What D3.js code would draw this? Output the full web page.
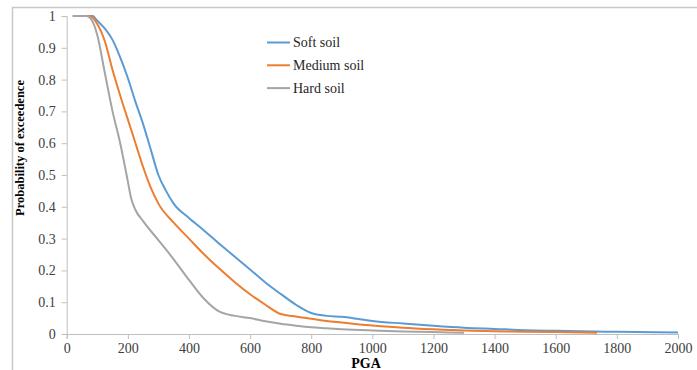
<!DOCTYPE html>
<html>
<head>
<meta charset="utf-8">
<script src="https://cdn.jsdelivr.net/npm/d3@7"></script>
<style>
  body { margin: 0; background: #fff; }
  text { font-family: "Liberation Serif", "Times New Roman", serif; }
</style>
</head>
<body>
<div id="chart"></div>
<script>
// PGA / probability of exceedence
const softPGA  = [20, 85, 100, 125, 150, 175, 200, 225, 250, 275, 300, 325, 350, 400, 450, 500, 550, 600, 650, 700, 750, 800, 850, 900, 950, 1000, 1100, 1200, 1300, 1400, 1500, 1600, 1800, 2000];
const softProb = [1, 1, 0.985, 0.96, 0.925, 0.87, 0.805, 0.73, 0.66, 0.58, 0.5, 0.45, 0.41, 0.365, 0.325, 0.283, 0.243, 0.203, 0.162, 0.126, 0.092, 0.066, 0.057, 0.054, 0.048, 0.041, 0.033, 0.026, 0.02, 0.016, 0.012, 0.01, 0.007, 0.005];

const mediumPGA  = [20, 75, 100, 125, 150, 175, 200, 225, 250, 275, 300, 350, 400, 450, 500, 550, 600, 650, 700, 750, 800, 850, 900, 950, 1000, 1100, 1200, 1300, 1400, 1500, 1600, 1735];
const mediumProb = [1, 1, 0.975, 0.92, 0.83, 0.75, 0.675, 0.6, 0.525, 0.46, 0.41, 0.35, 0.3, 0.25, 0.205, 0.163, 0.125, 0.092, 0.063, 0.055, 0.048, 0.041, 0.036, 0.031, 0.027, 0.02, 0.015, 0.011, 0.009, 0.007, 0.006, 0.004];

const hardPGA  = [20, 65, 80, 100, 125, 150, 175, 200, 210, 225, 250, 300, 350, 400, 450, 500, 550, 600, 650, 700, 750, 800, 850, 900, 1000, 1100, 1200, 1300];
const hardProb = [1, 1, 0.99, 0.94, 0.82, 0.7, 0.6, 0.48, 0.43, 0.39, 0.355, 0.295, 0.235, 0.17, 0.11, 0.07, 0.057, 0.05, 0.04, 0.032, 0.026, 0.021, 0.018, 0.015, 0.011, 0.008, 0.006, 0.004];

const seriesNames  = ["Soft soil", "Medium soil", "Hard soil"];
const seriesColors = ["#5b9bd5", "#ed7d31", "#a5a5a5"];
const xTicks = [0, 200, 400, 600, 800, 1000, 1200, 1400, 1600, 1800, 2000];
const yTicks = [0, 0.1, 0.2, 0.3, 0.4, 0.5, 0.6, 0.7, 0.8, 0.9, 1];

const series = [
    {name: seriesNames[0], color: seriesColors[0], pts: softPGA.map((v, i) => [v, softProb[i]])},
    {name: seriesNames[1], color: seriesColors[1], pts: mediumPGA.map((v, i) => [v, mediumProb[i]])},
    {name: seriesNames[2], color: seriesColors[2], pts: hardPGA.map((v, i) => [v, hardProb[i]])}
];

const W = 697, H = 370;
const margin = {top: 16, right: 19, bottom: 36, left: 66.7},
    width = W - margin.left - margin.right,
    height = H - margin.top - margin.bottom;

const root = d3.select("#chart")
    .append("svg")
    .attr("width", W)
    .attr("height", H);

// outer frame (only top and left are visible in the picture)
root.append("path")
    .attr("d", `M12.5,${H} L12.5,7.5 L${W},7.5`)
    .attr("fill", "none")
    .attr("stroke", "#c8c8c8")
    .attr("stroke-width", 1.5);

const svg = root.append("g")
    .attr("transform", `translate(${margin.left}, ${margin.top})`);

const x = d3.scaleLinear().domain([0, 2000]).range([0, width]);
const y = d3.scaleLinear().domain([0, 1]).range([height, 0]);

// X axis
const xAxis = svg.append("g")
    .attr("transform", `translate(0, ${height})`)
    .call(d3.axisBottom(x).tickValues(xTicks).tickSize(5).tickPadding(4).tickFormat(d3.format("d")));
// Y axis
const yAxis = svg.append("g")
    .call(d3.axisLeft(y).tickValues(yTicks).tickSize(5).tickPadding(6)
        .tickFormat(d => (d === 0 || d === 1) ? d : d.toFixed(1)));

[xAxis, yAxis].forEach(a => {
    a.select(".domain").attr("stroke", "#bfbfbf");
    a.selectAll(".tick line").attr("stroke", "#bfbfbf");
    a.selectAll(".tick text")
        .attr("fill", "#404040")
        .style("font-size", "14px")
        .style("font-family", "'Liberation Serif', serif");
});

// lines
const line = d3.line()
    .x(d => x(d[0]))
    .y(d => y(d[1]))
    .curve(d3.curveMonotoneX);

svg.append("g")
    .selectAll("path")
    .data(series)
    .join("path")
    .attr("fill", "none")
    .attr("stroke", d => d.color)
    .attr("stroke-width", 2)
    .attr("d", d => line(d.pts));

// legend
const legend = root.append("g")
    .selectAll("g")
    .data(series)
    .join("g")
    .attr("transform", (d, i) => `translate(267, ${42.5 + i * 22.8})`);
legend.append("line")
    .attr("x1", 0).attr("x2", 23)
    .attr("stroke", d => d.color)
    .attr("stroke-width", 2);
legend.append("text")
    .attr("x", 26)
    .attr("dy", "0.35em")
    .attr("fill", "#262626")
    .style("font-size", "14px")
    .text(d => d.name);

// axis titles
root.append("text")
    .attr("text-anchor", "middle")
    .attr("x", 366)
    .attr("y", 368)
    .attr("font-weight", "bold")
    .style("font-size", "14px")
    .text("PGA");

root.append("text")
    .attr("text-anchor", "middle")
    .attr("transform", "translate(24, 148) rotate(-90)")
    .attr("font-weight", "bold")
    .style("font-size", "12.5px")
    .text("Probability of exceedence");
</script>
</body>
</html>
